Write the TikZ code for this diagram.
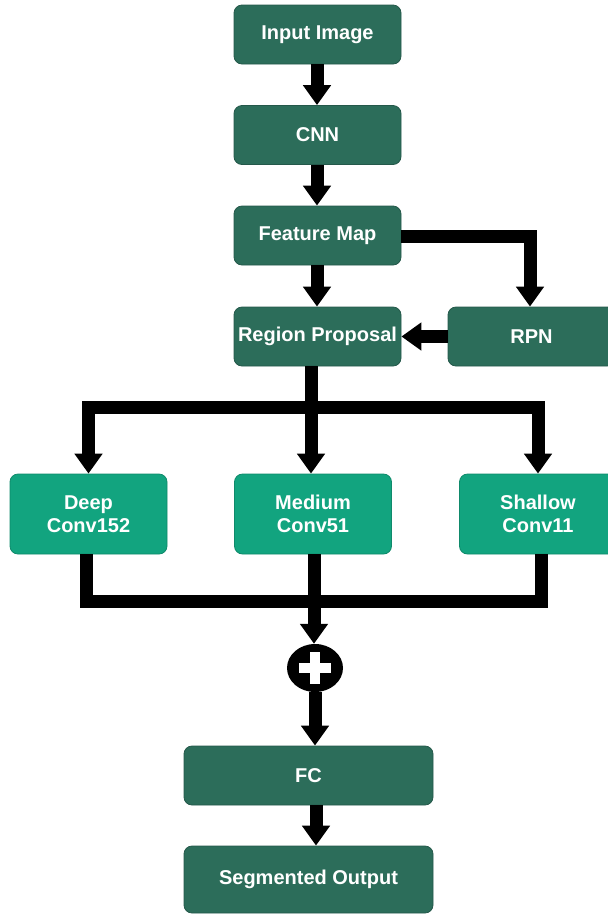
\documentclass[tikz,border=0pt]{standalone}
\usepackage{fontspec}
\setmainfont{Liberation Sans}
\usetikzlibrary{arrows.meta,shapes.geometric}
\definecolor{darkbox}{HTML}{2C6D5A}
\definecolor{darkedge}{HTML}{24584A}
\definecolor{lightbox}{HTML}{12A47F}
\definecolor{lightedge}{HTML}{0F8A6B}
\tikzset{
  box/.style={rectangle, rounded corners=8pt, fill=darkbox, draw=darkedge, line width=0.8pt,
    text=white, font=\fontsize{20}{23.5}\selectfont\bfseries, align=center,
    minimum width=167pt, minimum height=59pt, inner sep=0pt},
  branch/.style={box, fill=lightbox, draw=lightedge, minimum width=157pt, minimum height=80pt},
  flow/.style={line width=13pt, black, line join=miter},
  arr/.style={flow, -{Triangle[width=27pt,length=20pt]}},
}
\begin{document}
\begin{tikzpicture}[x=1pt,y=-1pt]
\useasboundingbox (0,0) rectangle (608,914);
\clip (0,0) rectangle (608,914);

% main column
\node[box] (inp)   at (317.5,34.5)  {Input Image};
\node[box] (cnn)   at (317.5,135)   {CNN};
\node[box] (fmap)  at (317.5,235.5) {Feature Map};
\node[box] (rprop) at (317.5,336.5) {Region Proposal};
\node[box] (rpn)   at (531.5,336.5) {RPN};

% parallel branches
\node[branch] (deep) at (88.5,514) {Deep\\Conv152};
\node[branch] (med)  at (313,514)  {Medium\\Conv51};
\node[branch] (shal) at (538,514)  {Shallow\\Conv11};

% summation and head
\node[ellipse, fill=black, minimum width=56pt, minimum height=48pt, inner sep=0pt] (sum) at (315,668) {};
\fill[white] ([xshift=-5pt,yshift=-16pt]sum.center) rectangle ([xshift=5pt,yshift=16pt]sum.center);
\fill[white] ([xshift=-16pt,yshift=-5pt]sum.center) rectangle ([xshift=16pt,yshift=5pt]sum.center);
\node[box, minimum width=249pt, minimum height=59pt] (fc)  at (308.5,775.5) {FC};
\node[box, minimum width=249pt, minimum height=67pt] (seg) at (308.5,879.5) {Segmented Output};

\coordinate (split) at (311,407);
\coordinate (merge) at (314,601);

% connectors
\draw[arr] (inp.south -| 317,0) -- (cnn.north -| 317,0);
\draw[arr] (cnn.south -| 317,0) -- (fmap.north -| 317,0);
\draw[arr] (fmap.south -| 317,0) -- (rprop.north -| 317,0);
\draw[arr] (fmap.east |- 0,236) -| (rpn.north -| 530,0);
\draw[arr] (rpn.west) -- (rprop.east);

\draw[flow] (rprop.south -| split) -- (split);
\draw[arr] (split) -| (deep.north);
\draw[arr] (split) -| (shal.north);
\draw[arr] (split) -- (med.north -| split);

\draw[flow] (deep.south -| 86,0) |- (merge);
\draw[flow] (shal.south -| 541,0) |- (merge);
\draw[flow] (med.south -| merge) -- (merge);
\draw[arr] (merge) -- (sum.north -| merge);
\draw[arr] (sum.south) -- (sum.south |- fc.north);
\draw[arr] (fc.south -| 316,0) -- (seg.north -| 316,0);
\end{tikzpicture}
\end{document}
